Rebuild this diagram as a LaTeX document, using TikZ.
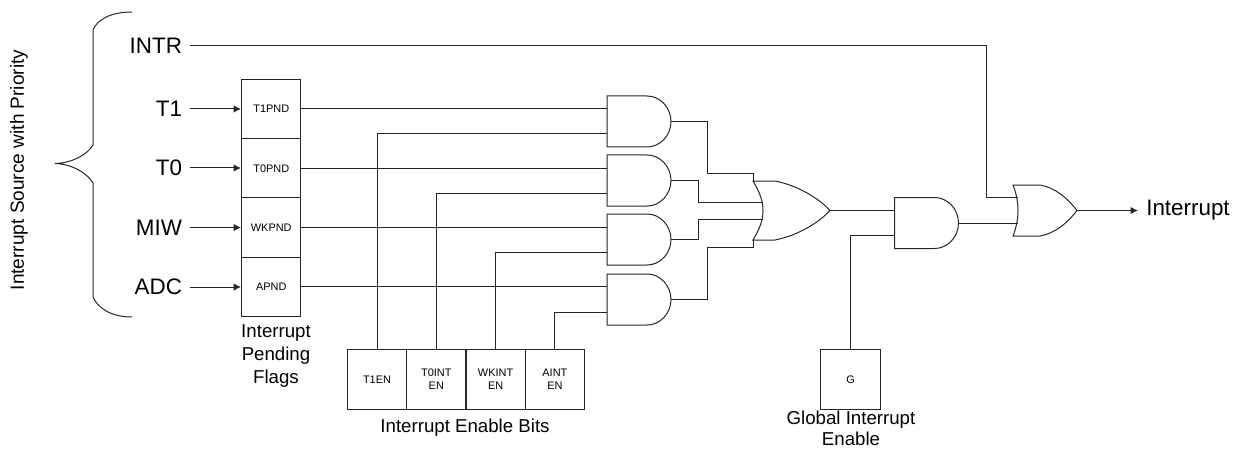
\documentclass[tikz,border=0pt]{standalone}
\usepackage{fontspec}
\setmainfont{Liberation Sans}
\usetikzlibrary{arrows.meta}
\definecolor{ink}{HTML}{262626}
\tikzset{
  wire/.style={draw=ink,line width=0.75pt},
  sigarrow/.style={wire,-{Latex[length=5.5pt,width=5.5pt]}},
  regbox/.style={draw=ink,line width=0.75pt,minimum width=44.6pt,minimum height=44.4pt,inner sep=0pt,align=center,font=\fontsize{8.2}{10}\selectfont},
  siglabel/.style={inner sep=0pt,outer xsep=6pt,anchor=east,font=\fontsize{16.8}{18}\selectfont},
  caption/.style={inner sep=0pt,align=center,font=\fontsize{14}{17.2}\selectfont},
  andgate/.pic={
    \draw[wire] (0,-25.5) -- (40,-25.5) .. controls (53,-25.5) and (64,-14) .. (64,0)
      .. controls (64,14) and (53,25.5) .. (40,25.5) -- (0,25.5) -- cycle;
    \coordinate (-in1) at (0,-12.5);
    \coordinate (-in2) at (0,12.5);
    \coordinate (-out) at (64,0);
  },
  orgateA/.pic={
    \draw[wire] (0,-29.5) -- (22,-29.5) .. controls (45,-25) and (66,-12) .. (77,0)
      .. controls (66,12) and (45,25) .. (22,29.5) -- (0,29.5)
      .. controls (7,18) and (10,9) .. (10,0) .. controls (10,-9) and (7,-18) .. (0,-29.5) -- cycle;
    \coordinate (-top) at (0,-29.5);
    \coordinate (-bot) at (0,29.5);
    \coordinate (-in2) at (9.6,-8.5);
    \coordinate (-in3) at (9.6,8.5);
    \coordinate (-out) at (77,0);
  },
  orgateB/.pic={
    \draw[wire] (0,-25.5) -- (27,-25.5) .. controls (42,-23) and (55,-12) .. (64,0)
      .. controls (55,12) and (42,23) .. (27,25.5) -- (0,25.5)
      .. controls (3,18) and (5,9) .. (5,0) .. controls (5,-9) and (3,-18) .. (0,-25.5) -- cycle;
    \coordinate (-in1) at (4.6,-12.75);
    \coordinate (-in2) at (4.6,12.75);
    \coordinate (-out) at (64,0);
  },
}
\begin{document}
\begin{tikzpicture}[x=0.75pt,y=-0.75pt]
\useasboundingbox (0,0) rectangle (1241,449);

% brace
\draw[wire] (132,12) .. controls (110,12) and (97,20) .. (93,30) -- (93,145)
  .. controls (87,155) and (72,163) .. (55,163.5)
  .. controls (72,164) and (87,173) .. (93,183) -- (93,297)
  .. controls (97,307) and (110,317) .. (132,317);
\node[inner sep=0pt,rotate=90,font=\fontsize{14.3}{16}\selectfont] (srccap) at (19,170) {Interrupt Source with Priority};

% source labels
\node[siglabel] (intr) at (190,45.5) {INTR};
\node[siglabel] (t1) at (190,109) {T1};
\node[siglabel] (t0) at (190,168) {T0};
\node[siglabel] (miw) at (190,227.5) {MIW};
\node[siglabel] (adc) at (190,287) {ADC};

% pending flags
\node[regbox] (p1) at (271.25,109) {T1PND};
\node[regbox] (p2) at (271.25,168.25) {T0PND};
\node[regbox] (p3) at (271.25,227.5) {WKPND};
\node[regbox] (p4) at (271.25,286.75) {APND};
\node[caption] (pcap) at (276,356) {Interrupt\\Pending\\Flags};

% enable bits
\node[regbox] (e1) at (377,379.5) {T1EN};
\node[regbox] (e2) at (436.3,379.5) {T0INT\\EN};
\node[regbox] (e3) at (495.6,379.5) {WKINT\\EN};
\node[regbox] (e4) at (554.9,379.5) {AINT\\EN};
\node[caption] (ecap) at (465,427.5) {Interrupt Enable Bits};

% global enable
\node[regbox] (g) at (850.5,379.5) {G};
\node[caption,font=\fontsize{14}{16.2}\selectfont] (gcap) at (851,428.5) {Global Interrupt\\Enable};

% gates
\pic (g1) at (607,121.5) {andgate};
\pic (g2) at (607,180.5) {andgate};
\pic (g3) at (607,239.5) {andgate};
\pic (g4) at (607,299.5) {andgate};
\pic (o1) at (753,210.5) {orgateA};
\pic (a5) at (894.5,223) {andgate};
\pic (o2) at (1013,210.5) {orgateB};

% routing points
\coordinate (b1) at (707,173.5);
\coordinate (b2) at (698,202);
\coordinate (b3) at (698,219);
\coordinate (b4) at (707,247.5);
\coordinate (intrdrop) at (986,45.5);
\coordinate (outend) at (1138,210.5);

% inputs
\draw[sigarrow] (t1.east) -- (t1.east -| p1.west);
\draw[sigarrow] (t0.east) -- (t0.east -| p2.west);
\draw[sigarrow] (miw.east) -- (miw.east -| p3.west);
\draw[sigarrow] (adc.east) -- (adc.east -| p4.west);

% flags to gates
\draw[wire] (p1.east) -- (p1.east -| g1-in1);
\draw[wire] (p2.east) -- (p2.east -| g2-in1);
\draw[wire] (p3.east) -- (p3.east -| g3-in1);
\draw[wire] (p4.east) -- (p4.east -| g4-in1);

% enables to gates
\draw[wire] (e1.north) |- (g1-in2);
\draw[wire] (e2.north) |- (g2-in2);
\draw[wire] (e3.north) |- (g3-in2);
\draw[wire] (e4.north) |- (g4-in2);

% gates to OR
\draw[wire] (g1-out) -| (b1) -| (o1-top);
\draw[wire] (g2-out) -| (b2) -- (b2 -| o1-in2);
\draw[wire] (g3-out) -| (b3) -- (b3 -| o1-in3);
\draw[wire] (g4-out) -| (b4) -| (o1-bot);

% final stage
\draw[wire] (o1-out) -- (o1-out -| a5-in1);
\draw[wire] (g.north) |- (a5-in2);
\draw[wire] (a5-out) -- (a5-out -| o2-in2);
\draw[wire] (intr.east) -- (intrdrop) |- (o2-in1);
\draw[sigarrow] (o2-out) -- (outend);
\node[inner sep=0pt,anchor=west,font=\fontsize{16.8}{18}\selectfont] (intout) at (1146,210.5) {Interrupt};
\end{tikzpicture}
\end{document}
